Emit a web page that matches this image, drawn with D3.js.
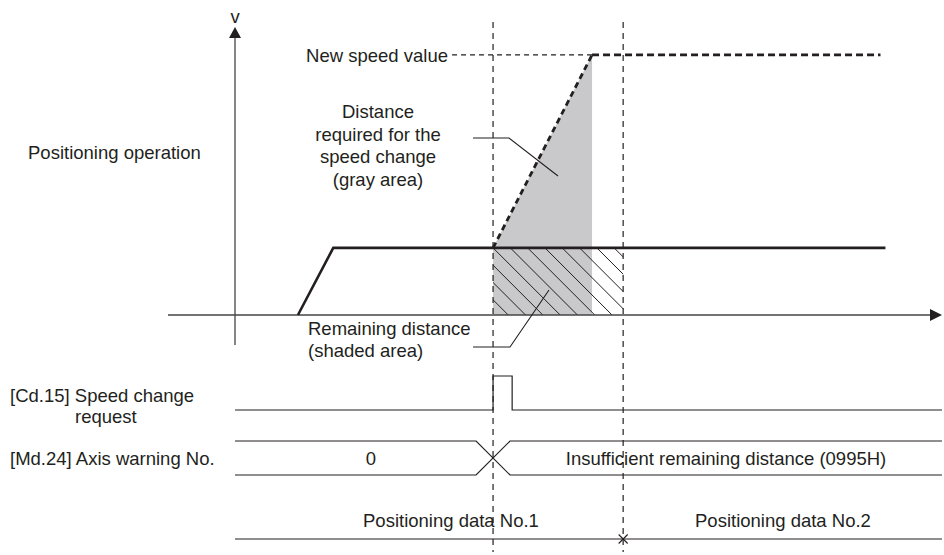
<!DOCTYPE html>
<html><head><meta charset="utf-8">
<script src="https://cdn.jsdelivr.net/npm/d3@7"></script>
<style>
html,body{margin:0;padding:0;background:#fff;}
text{font-family:"Liberation Sans",Arial,Helvetica,sans-serif;font-size:18.5px;fill:#231f20;}
</style></head>
<body>
<svg id="c" width="944" height="555"></svg>
<script>
// ---- data (time in % of axis length, speed in % of axis height) ----
const speedTimes   = [8.9, 13.9, 92.0];          // actual speed profile
const speedValues  = [0, 23.3, 23.3];
const rampTimes    = [36.5, 50.5];               // speed change ramp (dashed)
const rampValues   = [23.3, 90.3];
const newSpeedTimes = [30.7, 50.5, 91.3];        // new speed value guide line
const newSpeedValue = 90.3;
const markerTimes  = [36.5, 54.9];               // change request / end of data No.1
const pulseTimes   = [36.5, 39.2];               // [Cd.15] ON period
const crossTimes   = [34.1, 38.9];               // [Md.24] transition
const warningValues = ["0", "Insufficient remaining distance (0995H)"];
const dataLabels   = ["Positioning data No.1", "Positioning data No.2"];
const rowLabels    = ["[Cd.15] Speed change", "request", "[Md.24] Axis warning No."];
const calloutLabels = ["Distance", "required for the", "speed change", "(gray area)"];
const shadedLabels = ["Remaining distance", "(shaded area)"];

const svg = d3.select("#c");
const ink = "#231f20";
const x = d3.scaleLinear().domain([0, 100]).range([235, 942]);
const y = d3.scaleLinear().domain([0, 100]).range([315, 27]);

// defs: hatch clip (remaining distance area with small chamfered right corners)
const hx0 = x(rampTimes[0]), hx1 = x(markerTimes[1]), hy0 = y(speedValues[1]), hy1 = y(0);
const defs = svg.append("defs");
defs.append("clipPath").attr("id", "hclip").append("path")
  .attr("d", d3.line()([[hx0, hy0], [hx1 - 4, hy0], [hx1, hy0 + 4], [hx1, hy1 - 4], [hx1 - 4, hy1], [hx0, hy1]]) + "Z");

// gray area
svg.append("path")
  .attr("d", d3.line()([[x(rampTimes[0]), y(rampValues[0])], [x(rampTimes[1]), y(rampValues[1])],
    [x(rampTimes[1]), y(0)], [x(rampTimes[0]), y(0)]]))
  .attr("fill", "#c9c9cb");

// hatch
const hg = svg.append("g").attr("clip-path", "url(#hclip)");
for (let k = -6; k < 12; k++) {
  const sx = hx0 + k * 17.3;
  hg.append("line").attr("x1", sx).attr("y1", hy0).attr("x2", sx + 120).attr("y2", hy0 + 120)
    .attr("stroke", ink).attr("stroke-width", 1);
}

// dashed verticals
svg.selectAll("line.mk").data(markerTimes).join("line").attr("class", "mk")
  .attr("x1", d => x(d)).attr("x2", d => x(d)).attr("y1", 22).attr("y2", 552)
  .attr("stroke", ink).attr("stroke-width", 1.2).attr("stroke-dasharray", "6,5");

// axes
svg.append("line").attr("x1", x(0)).attr("x2", x(0)).attr("y1", 36).attr("y2", 345)
  .attr("stroke", "#444").attr("stroke-width", 1.3);
svg.append("path").attr("d", `M${x(0)},27 L${x(0) - 6},38 L${x(0) + 6},38 Z`).attr("fill", ink);
svg.append("line").attr("x1", 168).attr("x2", 932).attr("y1", y(0)).attr("y2", y(0))
  .attr("stroke", "#444").attr("stroke-width", 1.3);
svg.append("path").attr("d", `M942,${y(0)} L930,${y(0) - 6} L930,${y(0) + 6} Z`).attr("fill", ink);
svg.append("text").attr("x", x(0)).attr("y", 23).attr("text-anchor", "middle").text("v");

// speed profile
svg.append("path").attr("d", d3.line().x((d, i) => x(speedTimes[i])).y(d => y(d))(speedValues))
  .attr("fill", "none").attr("stroke", ink).attr("stroke-width", 2.6);

// new speed line
svg.append("line").attr("x1", x(newSpeedTimes[0])).attr("x2", x(newSpeedTimes[1]))
  .attr("y1", y(newSpeedValue)).attr("y2", y(newSpeedValue))
  .attr("stroke", ink).attr("stroke-width", 1.3).attr("stroke-dasharray", "5,4");
svg.append("line").attr("x1", x(newSpeedTimes[1])).attr("x2", x(newSpeedTimes[2]))
  .attr("y1", y(newSpeedValue)).attr("y2", y(newSpeedValue))
  .attr("stroke", ink).attr("stroke-width", 2.8).attr("stroke-dasharray", "7,4");
// ramp
svg.append("path").attr("d", d3.line().x((d, i) => x(rampTimes[i])).y(d => y(d))(rampValues))
  .attr("fill", "none").attr("stroke", ink).attr("stroke-width", 2.8).attr("stroke-dasharray", "6,4");

// leaders
svg.append("polyline").attr("points", "473,138 509,138 558,176")
  .attr("fill", "none").attr("stroke", ink).attr("stroke-width", 1.1);
svg.append("polyline").attr("points", "473,347 510,347 549,290")
  .attr("fill", "none").attr("stroke", ink).attr("stroke-width", 1.1);

// texts top
svg.append("text").attr("x", 448).attr("y", 62).attr("text-anchor", "end").text("New speed value");
svg.append("text").attr("x", 28).attr("y", 159).text("Positioning operation");
svg.selectAll("text.co").data(calloutLabels).join("text").attr("class", "co")
  .attr("x", 378).attr("y", (d, i) => 118 + i * 22.5).attr("text-anchor", "middle").text(d => d);
svg.selectAll("text.sh").data(shadedLabels).join("text").attr("class", "sh")
  .attr("x", 308).attr("y", (d, i) => 335 + i * 21.5).text(d => d);

// timing rows
const rowCd = 410, rowHigh = 376, mdTop = 441, mdBot = 475, posY = 539;
svg.append("path").attr("d", d3.line()([
  [x(0), rowCd], [x(pulseTimes[0]), rowCd], [x(pulseTimes[0]), rowHigh],
  [x(pulseTimes[1]), rowHigh], [x(pulseTimes[1]), rowCd], [x(100), rowCd]]))
  .attr("fill", "none").attr("stroke", ink).attr("stroke-width", 1.2);

svg.append("path").attr("d",
  d3.line()([[x(0), mdTop], [x(crossTimes[0]), mdTop], [x(crossTimes[1]), mdBot], [x(100), mdBot]]) +
  d3.line()([[x(0), mdBot], [x(crossTimes[0]), mdBot], [x(crossTimes[1]), mdTop], [x(100), mdTop]]))
  .attr("fill", "none").attr("stroke", ink).attr("stroke-width", 1.2);

svg.append("line").attr("x1", x(0)).attr("x2", x(100)).attr("y1", posY).attr("y2", posY)
  .attr("stroke", ink).attr("stroke-width", 1.2);
const mx = x(markerTimes[1]);
svg.append("path").attr("d", `M${mx - 4.5},${posY - 4.5}L${mx + 4.5},${posY + 4.5}M${mx - 4.5},${posY + 4.5}L${mx + 4.5},${posY - 4.5}`)
  .attr("stroke", ink).attr("stroke-width", 1.1);

svg.append("text").attr("x", 10).attr("y", 402).text(rowLabels[0]);
svg.append("text").attr("x", 75).attr("y", 423).text(rowLabels[1]);
svg.append("text").attr("x", 10).attr("y", 465).text(rowLabels[2]);
svg.append("text").attr("x", 371).attr("y", 465).attr("text-anchor", "middle").text(warningValues[0]);
svg.append("text").attr("x", 726).attr("y", 465).attr("text-anchor", "middle").text(warningValues[1]);
svg.append("text").attr("x", 363).attr("y", 527).text(dataLabels[0]);
svg.append("text").attr("x", 695).attr("y", 527).text(dataLabels[1]);
</script>
</body></html>
